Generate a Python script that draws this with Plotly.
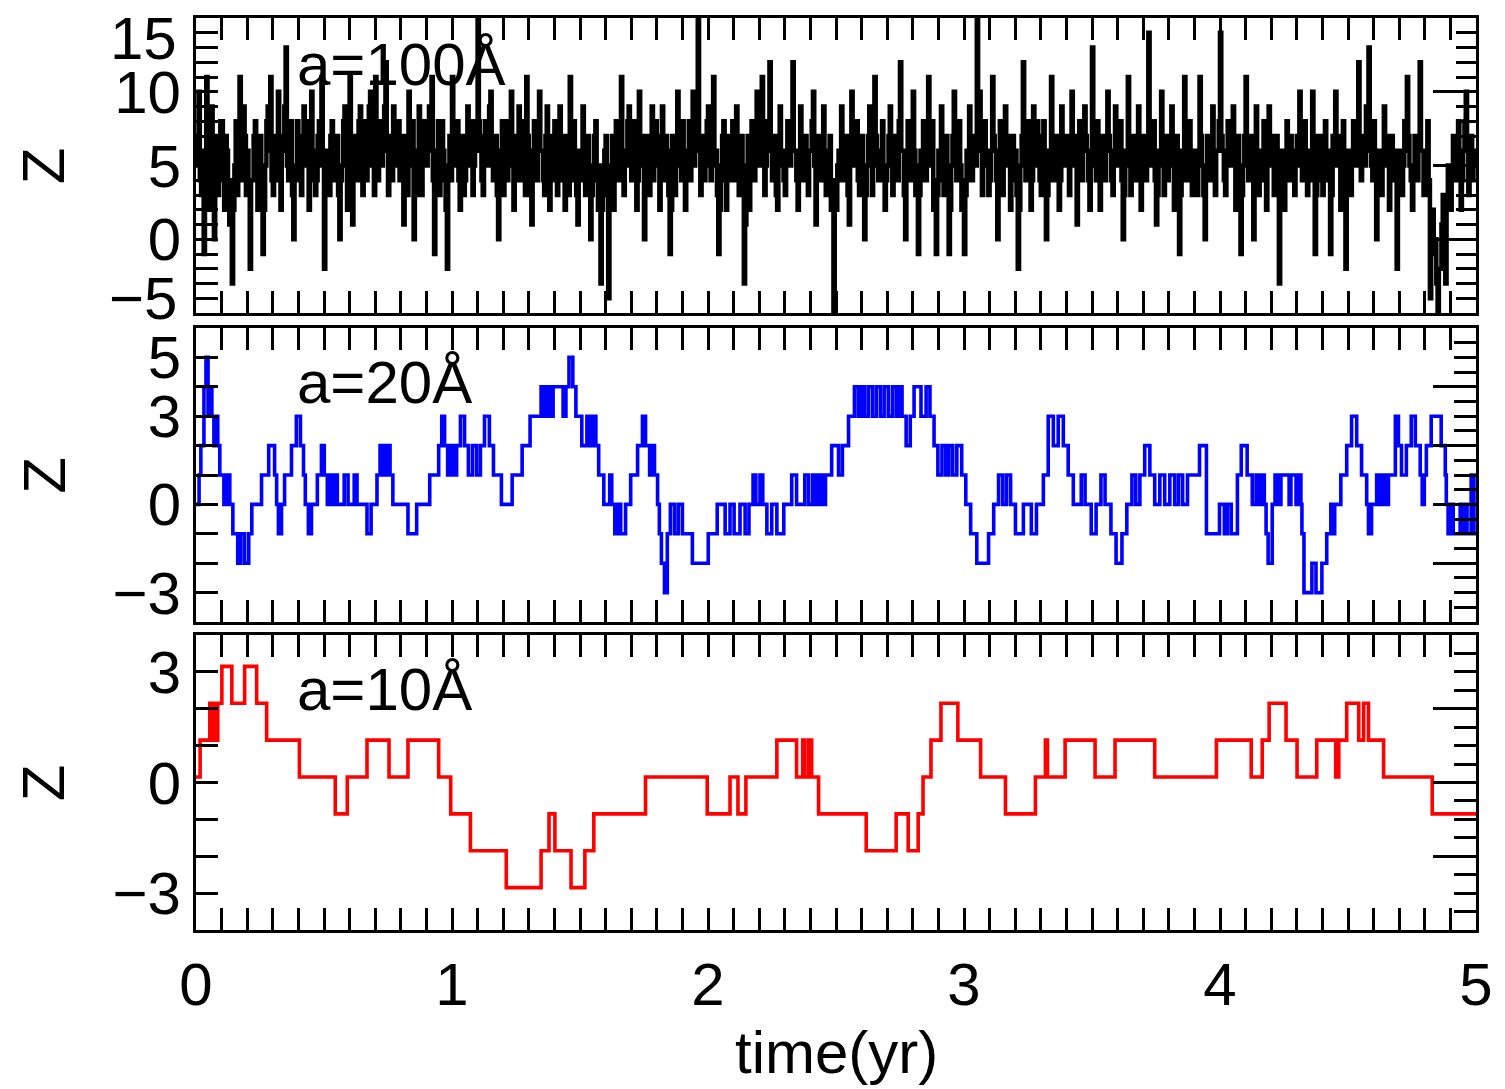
import plotly.graph_objects as go

FONT = "Liberation Sans, Arial, sans-serif"
FS = 60

# ---- grain charge Z versus time, a = 100 Å (sampled every 0.005 yr) ----
z_black = [
    5, 7, 10, 4, 3, 6, -1, 5, 11, 3, 2, 8, 9, 4, 0, 6, 7, 3, 4, 8,
    8, 5, 2, 7, 6, 3, 1, 4, -3, 2, 5, 8, 3, 6, 11, 5, 4, 9, 7, 3,
    6, 3, -2, 4, 4, 7, 8, 5, 2, 6, 7, 3, -1, 2, 5, 8, 9, 6, 11, 4,
    3, 6, 7, 4, 10, 5, 2, 7, 6, 9, 13, 5, 4, 7, 8, 3, 0, 4, 5, 8,
    7, 4, 3, 6, 9, 5, 5, 8, 2, 4, 10, 6, 6, 3, 4, 7, 8, 5, 11, 6,
    -2, 3, 6, 4, 3, 7, 8, 5, 4, 6, 7, 3, 0, 4, 5, 8, 9, 6, 2, 5,
    11, 6, 1, 5, 7, 4, 4, 8, 9, 6, 3, 7, 8, 4, 5, 9, 10, 5, 6, 3,
    11, 7, 4, 6, 8, 5, 6, 9, 12, 7, 3, 5, 7, 4, 9, 6, 5, 8, 8, 4,
    4, 7, 1, 5, 7, 3, 10, 6, 5, 8, 0, 4, 6, 3, 9, 5, 3, 7, 8, 5,
    5, 8, 9, 6, 11, 4, -1, 3, 6, 8, 3, 5, 8, 6, 4, 2, -2, 5, 7, 4,
    11, 6, 5, 8, 8, 4, 2, 6, 7, 3, 4, 7, 9, 5, 6, 8, 3, 5, 8, 6,
    16, 8, 6, 4, 3, 7, 8, 5, 5, 9, 10, 6, 4, 7, 7, 3, 0, 5, 6, 8,
    3, 6, 8, 4, 5, 7, 10, 6, 2, 5, 7, 4, 9, 6, 4, 8, 6, 3, 11, 7,
    5, 3, 1, 6, 8, 5, 4, 7, 10, 6, 6, 4, 3, 7, 9, 5, 2, 6, 7, 4,
    8, 5, 3, 6, 9, 4, 5, 7, 2, 5, 7, 3, 11, 6, 4, 8, 6, 3, 1, 4,
    6, 4, 9, 5, 3, 7, 7, 4, 0, 3, 5, 7, 8, 4, 2, 5, -3, 2, 4, 6,
    7, 3, -4, 2, 5, 7, 2, 6, 8, 5, 4, 7, 11, 6, 3, 5, 6, 8, 9, 5,
    4, 6, 8, 5, 2, 4, 10, 6, 5, 7, 0, 3, 7, 5, 3, 6, 9, 4, 6, 8,
    5, 7, 2, 4, 9, 6, 4, 7, 6, 3, -1, 2, 7, 5, 3, 6, 10, 7, 5, 4,
    8, 5, 2, 4, 6, 8, 4, 6, 10, 5, 6, 8, 16, 7, 3, 5, 7, 4, 5, 8,
    9, 6, 4, 7, 11, 5, 6, 3, -1, 2, 5, 7, 8, 4, 2, 5, 7, 6, 4, 8,
    6, 4, 9, 5, 3, 6, 7, 4, -3, 1, 5, 7, 2, 4, 8, 6, 4, 7, 10, 5,
    5, 8, 11, 6, 3, 5, 8, 6, 12, 7, 4, 6, 7, 3, 2, 5, 9, 6, 6, 4,
    3, 6, 8, 5, 5, 7, 12, 6, 6, 4, 2, 5, 9, 6, 4, 7, 7, 5, 3, 6,
    6, 8, 10, 5, 1, 4, 7, 5, 4, 6, 9, 5, 3, 6, 5, 7, 2, 4, -7, 3,
    2, 5, 6, 4, 9, 6, 4, 7, 7, 3, 1, 5, 10, 6, 5, 7, 8, 4, 3, 6,
    7, 4, 0, 3, 5, 7, 9, 6, 3, 5, 11, 7, 6, 4, 4, 6, 8, 5, 2, 4,
    5, 7, 9, 6, 3, 5, 7, 4, 4, 8, 12, 6, 6, 3, 0, 4, 8, 6, 4, 7,
    10, 6, 3, 5, -1, 3, 6, 4, 8, 5, 4, 7, 11, 6, 5, 8, 2, 4, -1, 3,
    6, 4, 9, 6, 3, 5, 7, 4, -1, 2, 5, 7, 10, 6, 4, 7, 8, 5, 2, 4,
    -1, 3, 6, 4, 9, 6, 4, 7, 7, 5, 16, 8, 10, 6, 3, 5, 8, 6, 5, 3,
    4, 6, 11, 7, 6, 4, 0, 3, 8, 5, 3, 6, 9, 5, 5, 7, 2, 4, 7, 5,
    6, 3, -2, 2, 5, 7, 12, 6, 4, 6, 8, 5, 2, 4, 9, 6, 5, 8, 7, 4,
    3, 6, 8, 5, 0, 3, 6, 4, 11, 7, 4, 6, 7, 5, 2, 4, 9, 6, 5, 7,
    7, 5, 3, 6, 10, 6, 5, 7, 1, 4, 8, 5, 4, 6, 9, 7, 6, 4, 2, 5,
    13, 7, 5, 4, 8, 6, 2, 5, 7, 4, 4, 6, 10, 7, 6, 4, 3, 6, 9, 5,
    5, 7, 8, 4, 0, 3, 6, 5, 11, 7, 3, 5, 7, 4, 4, 6, 9, 5, 2, 4,
    7, 5, 4, 6, 14, 8, 5, 7, 8, 4, 1, 3, 6, 5, 10, 6, 3, 5, 7, 4,
    5, 7, 9, 6, 2, 4, 7, 5, -1, 3, 6, 4, 11, 7, 4, 6, 8, 5, 3, 6,
    6, 4, 3, 5, 11, 7, 5, 3, 0, 4, 7, 5, 4, 6, 9, 5, 3, 6, 6, 8,
    14, 7, 6, 4, 3, 6, 8, 5, 5, 7, 9, 6, 2, 4, 7, 5, -1, 3, 5, 7,
    11, 6, 4, 5, 7, 4, 0, 3, 9, 6, 3, 5, 6, 4, 8, 6, 2, 5, 9, 5,
    5, 7, 3, 5, 7, 4, -3, 2, 6, 4, 2, 5, 8, 6, 4, 7, 6, 5, 3, 6,
    7, 5, 10, 6, 4, 7, 8, 5, 3, 6, 6, 4, 10, 7, -1, 3, 5, 7, 7, 4,
    3, 6, 8, 5, 4, 6, -1, 3, 7, 5, 10, 6, 5, 7, 2, 4, 8, 5, -2, 3,
    6, 4, 3, 6, 8, 5, 5, 7, 12, 6, 4, 7, 7, 5, 9, 6, 13, 7, 5, 4,
    8, 5, 0, 4, 6, 3, 3, 6, 9, 5, 5, 7, 2, 4, 7, 5, 4, 6, -2, 3,
    6, 4, 3, 5, 8, 6, 11, 7, 5, 4, 2, 5, 7, 6, 4, 7, 12, 6, 6, 3,
    3, 5, 8, 4, -4, 1, 2, -1, 0, -3, -6, -2, -2, 1, 3, 0, -3, 2, 5, 3,
    2, 5, 7, 4, 4, 6, 8, 5, 2, 4, 6, 8, 10, 6, 3, 5, 7, 4, 5, 6,
]
DT_BLACK = 0.005
t_black = [i * DT_BLACK for i in range(len(z_black))] + [5.0]
z_black_steps = z_black + [z_black[-1]]

# ---- a = 20 Å: times (yr) at which the charge changes, and the new charge ----
t_blue = [
    0.000, 0.012, 0.019, 0.031, 0.039, 0.047, 0.054, 0.062, 0.070, 0.078,
    0.085, 0.093, 0.109, 0.120, 0.132, 0.144, 0.163, 0.175, 0.190, 0.206,
    0.218, 0.256, 0.284, 0.307, 0.315, 0.322, 0.334, 0.346, 0.373, 0.392,
    0.408, 0.420, 0.427, 0.439, 0.451, 0.474, 0.490, 0.501, 0.513, 0.521,
    0.532, 0.544, 0.552, 0.579, 0.594, 0.618, 0.629, 0.668, 0.684, 0.707,
    0.719, 0.726, 0.734, 0.742, 0.750, 0.758, 0.769, 0.828, 0.862, 0.913,
    0.948, 0.960, 0.971, 0.983, 0.995, 1.006, 1.018, 1.033, 1.049, 1.064,
    1.080, 1.096, 1.111, 1.127, 1.146, 1.162, 1.193, 1.235, 1.274, 1.305,
    1.348, 1.356, 1.364, 1.371, 1.379, 1.387, 1.395, 1.434, 1.445, 1.457,
    1.472, 1.484, 1.507, 1.527, 1.538, 1.550, 1.562, 1.573, 1.593, 1.616,
    1.624, 1.636, 1.647, 1.659, 1.678, 1.698, 1.725, 1.744, 1.756, 1.772,
    1.783, 1.791, 1.803, 1.810, 1.818, 1.830, 1.841, 1.853, 1.869, 1.884,
    1.900, 1.939, 2.001, 2.036, 2.067, 2.086, 2.102, 2.125, 2.145, 2.160,
    2.176, 2.187, 2.203, 2.214, 2.230, 2.249, 2.269, 2.296, 2.327, 2.346,
    2.378, 2.393, 2.409, 2.416, 2.424, 2.432, 2.440, 2.448, 2.459, 2.483,
    2.510, 2.525, 2.549, 2.572, 2.587, 2.599, 2.611, 2.626, 2.642, 2.657,
    2.673, 2.688, 2.704, 2.720, 2.735, 2.747, 2.758, 2.774, 2.790, 2.805,
    2.832, 2.852, 2.867, 2.883, 2.898, 2.914, 2.929, 2.941, 2.956, 2.972,
    2.991, 3.007, 3.026, 3.050, 3.096, 3.116, 3.135, 3.151, 3.166, 3.182,
    3.201, 3.232, 3.263, 3.283, 3.310, 3.329, 3.349, 3.368, 3.388, 3.407,
    3.427, 3.458, 3.473, 3.497, 3.516, 3.535, 3.551, 3.574, 3.594, 3.617,
    3.636, 3.656, 3.671, 3.687, 3.706, 3.726, 3.745, 3.765, 3.784, 3.804,
    3.823, 3.838, 3.854, 3.873, 3.920, 3.947, 3.998, 4.017, 4.029, 4.044,
    4.068, 4.083, 4.106, 4.126, 4.141, 4.153, 4.161, 4.173, 4.180, 4.188,
    4.204, 4.215, 4.227, 4.238, 4.270, 4.277, 4.297, 4.305, 4.316, 4.320,
    4.328, 4.359, 4.375, 4.398, 4.417, 4.433, 4.441, 4.448, 4.472, 4.495,
    4.514, 4.534, 4.553, 4.573, 4.580, 4.592, 4.612, 4.619, 4.627, 4.635,
    4.643, 4.650, 4.658, 4.685, 4.697, 4.709, 4.728, 4.747, 4.763, 4.782,
    4.790, 4.798, 4.806, 4.825, 4.864, 4.880, 4.884, 4.891, 4.903, 4.911,
    4.938, 4.946, 4.957, 4.965, 4.981, 4.992, 5.000,
]
z_blue = [
    0, 1, 2, 4, 5, 3, 4, 3, 2, 3,
    2, 1, 0, 1, 0, -1, -2, -1, -2, -1,
    0, 1, 2, 1, 0, -1, 0, 1, 2, 3,
    2, 1, 0, -1, 0, 1, 2, 1, 0, 1,
    0, 1, 0, 1, 0, 1, 0, -1, 0, 1,
    2, 1, 2, 1, 2, 1, 0, -1, 0, 1,
    2, 3, 2, 1, 2, 1, 2, 3, 2, 1,
    2, 1, 2, 3, 2, 1, 0, 1, 2, 3,
    4, 3, 4, 3, 4, 3, 4, 3, 4, 5,
    4, 3, 2, 3, 2, 3, 2, 1, 0, 1,
    0, -1, 0, -1, 0, 1, 2, 3, 2, 1,
    2, 1, 0, -1, -2, -3, -1, 0, -1, 0,
    -1, -2, -1, 0, -1, 0, -1, 0, -1, 0,
    1, 0, 1, 0, -1, 0, -1, 0, 1, 0,
    1, 0, 1, 0, 1, 0, 1, 0, 1, 2,
    1, 2, 3, 4, 3, 4, 3, 4, 3, 4,
    3, 4, 3, 4, 3, 4, 3, 2, 3, 4,
    3, 4, 3, 2, 1, 2, 1, 2, 1, 2,
    1, 0, -1, -2, -1, 0, 1, 0, 1, 0,
    -1, 0, -1, 0, 1, 3, 2, 3, 2, 1,
    0, 1, 0, -1, 0, 1, 0, -1, -2, -1,
    0, 1, 0, 1, 2, 1, 0, 1, 0, 1,
    0, 1, 0, 1, 2, -1, 0, -1, 0, -1,
    1, 2, 1, 0, 1, 0, 1, 0, -1, -2,
    0, 1, 0, 1, 0, 1, 0, 1, 0, -1,
    -3, -2, -3, -2, -1, 0, -1, 0, 1, 2,
    3, 2, 1, 0, -1, 0, 1, 0, 1, 0,
    1, 0, 1, 3, 2, 1, 2, 3, 2, 1,
    0, 1, 2, 3, 2, 1, 0, -1, 0, -1,
    0, -1, 0, -1, 1, -1, -1,
]

# ---- a = 10 Å: change times (yr) and charge levels ----
t_red = [
    0.000, 0.016, 0.054, 0.062, 0.070, 0.078, 0.085, 0.101, 0.140, 0.190,
    0.237, 0.276, 0.404, 0.544, 0.591, 0.668, 0.754, 0.828, 0.948, 0.995,
    1.072, 1.212, 1.348, 1.379, 1.402, 1.465, 1.519, 1.554, 1.756, 1.997,
    2.086, 2.117, 2.148, 2.269, 2.346, 2.370, 2.378, 2.393, 2.405, 2.432,
    2.618, 2.735, 2.782, 2.821, 2.840, 2.871, 2.910, 2.976, 3.065, 3.162,
    3.279, 3.318, 3.326, 3.395, 3.512, 3.590, 3.745, 3.986, 4.122, 4.165,
    4.192, 4.258, 4.301, 4.378, 4.452, 4.464, 4.495, 4.542, 4.561, 4.580,
    4.639, 4.829, 5.000,
]
z_red = [
    0.15, 1.15, 2.15, 1.15, 2.15, 1.15, 2.15, 3.15, 2.15, 3.15,
    2.15, 1.15, 0.15, -0.85, 0.15, 1.15, 0.15, 1.15, 0.15, -0.85,
    -1.85, -2.85, -1.85, -0.85, -1.85, -2.85, -1.85, -0.85, 0.15, -0.85,
    0.15, -0.85, 0.15, 1.15, 0.15, 1.15, 0.15, 1.15, 0.15, -0.85,
    -1.85, -0.85, -1.85, -0.85, 0.15, 1.15, 2.15, 1.15, 0.15, -0.85,
    0.15, 1.15, 0.15, 1.15, 0.15, 1.15, 0.15, 1.15, 0.15, 1.15,
    2.15, 1.15, 0.15, 1.15, 0.15, 1.15, 2.15, 1.15, 2.15, 1.15,
    0.15, -0.85, -0.85,
]

# labelled ticks of the left axes (unlabelled ones are drawn as minor ticks)
y1_ticks = [0, 5, 10]
y1_text = ["0", "5", "10"]
y2_ticks = [5, 3, 0, -3]
y2_text = ["5", "3", "0", "\u22123"]
y3_ticks = [3, 0, -3]
y3_text = ["3", "0", "\u22123"]

panel_labels = ["a=100\u00c5", "a=20\u00c5", "a=10\u00c5"]

fig = go.Figure()
fig.add_trace(go.Scatter(x=t_black, y=z_black_steps, mode="lines",
                         line=dict(color="black", width=4.5, shape="hv"),
                         xaxis="x", yaxis="y", hoverinfo="skip", showlegend=False))
fig.add_trace(go.Scatter(x=t_blue, y=z_blue, mode="lines",
                         line=dict(color="#0000ff", width=3.6, shape="hv"),
                         xaxis="x2", yaxis="y2", hoverinfo="skip", showlegend=False))
fig.add_trace(go.Scatter(x=t_red, y=z_red, mode="lines",
                         line=dict(color="#ff0000", width=3.6, shape="hv"),
                         xaxis="x3", yaxis="y3", hoverinfo="skip", showlegend=False))
# empty traces so the right-hand tick axes get drawn
for xa, ya in (("x", "y4"), ("x2", "y5"), ("x3", "y6")):
    fig.add_trace(go.Scatter(x=[None], y=[None], xaxis=xa, yaxis=ya,
                             hoverinfo="skip", showlegend=False))

LW = 3
TW = 2.5
tickfont = dict(family=FONT, size=FS, color="black")


def x_axis(anchor, labels):
    return dict(
        domain=[0, 1], range=[0, 5], anchor=anchor,
        showline=True, linecolor="black", linewidth=LW, mirror="allticks",
        ticks="inside", ticklen=22, tickwidth=TW, tickcolor="black",
        tickmode="linear", tick0=0, dtick=1,
        minor=dict(ticks="inside", dtick=0.1, tick0=0, ticklen=10,
                   tickwidth=TW, tickcolor="black", showgrid=False),
        showgrid=False, zeroline=False, showticklabels=labels,
        tickfont=tickfont, ticklabelstandoff=0,
    )


def y_left(domain, rng, vals, text, anchor):
    return dict(
        domain=domain, range=rng, anchor=anchor,
        showline=True, linecolor="black", linewidth=LW, mirror=True,
        ticks="inside", ticklen=22, tickwidth=TW, tickcolor="black",
        tickmode="array", tickvals=vals, ticktext=text,
        minor=dict(ticks="inside", tickmode="linear", tick0=0, dtick=1,
                   ticklen=22, tickwidth=TW, tickcolor="black", showgrid=False),
        showgrid=False, zeroline=False, tickfont=tickfont,
        ticklabelstandoff=0,
    )


def y_right(over, rng, major, minor, minor_len, anchor):
    return dict(
        overlaying=over, side="right", anchor=anchor, range=rng,
        ticks="inside", ticklen=43, tickwidth=TW, tickcolor="black",
        tickmode="linear", tick0=0, dtick=major,
        minor=dict(ticks="inside", dtick=minor, tick0=0, ticklen=minor_len,
                   tickwidth=TW, tickcolor="black", showgrid=False),
        showticklabels=False, showline=False, showgrid=False, zeroline=False,
    )


H_PLOT = 912.0
dom1 = [(930 - 313) / H_PLOT, 1.0]
dom2 = [(930 - 622) / H_PLOT, (930 - 328) / H_PLOT]
dom3 = [0.0, (930 - 635) / H_PLOT]

fig.update_layout(
    width=1505, height=1089,
    margin=dict(l=196, r=22, t=18, b=159),
    paper_bgcolor="white", plot_bgcolor="white",
    font=dict(family=FONT, size=FS, color="black"),
    xaxis=x_axis("y", False),
    xaxis2=x_axis("y2", False),
    xaxis3=x_axis("y3", True),
    yaxis=y_left(dom1, [-5, 15], y1_ticks, y1_text, "x"),
    yaxis2=y_left(dom2, [-4, 6], y2_ticks, y2_text, "x2"),
    yaxis3=y_left(dom3, [-4, 4], y3_ticks, y3_text, "x3"),
    yaxis4=y_right("y", [-5, 15], 5, 1, 20, "x"),
    yaxis5=y_right("y2", [-4, 6], 2, 0.5, 22, "x2"),
    yaxis6=y_right("y3", [-4, 4], 2, 0.5, 22, "x3"),
)

ann = []
# end labels of the top panel sit just inside the frame
ann.append(dict(text="15", xref="paper", yref="y", x=-0.013, y=15, yshift=-20,
                xanchor="right", yanchor="middle", showarrow=False,
                font=tickfont))
ann.append(dict(text="\u22125", xref="paper", yref="y", x=-0.013, y=-5, yshift=15,
                xanchor="right", yanchor="middle", showarrow=False,
                font=tickfont))
# y-axis titles
for yref in ("y domain", "y2 domain", "y3 domain"):
    ann.append(dict(text="Z", xref="paper", yref=yref, x=-0.119, y=0.5,
                    xanchor="center", yanchor="middle", textangle=-90,
                    showarrow=False, font=tickfont))
# panel labels
for (xr, yr, yv), lab in zip((("x", "y domain", 0.841),
                              ("x2", "y2 domain", 0.813),
                              ("x3", "y3 domain", 0.814)), panel_labels):
    ann.append(dict(text=lab, xref=xr, yref=yr, x=0.385, y=yv,
                    xanchor="left", yanchor="middle", showarrow=False,
                    font=tickfont))
# x-axis title
ann.append(dict(text="time(yr)", xref="paper", yref="paper", x=0.5,
                y=(930 - 1052) / H_PLOT, xanchor="center", yanchor="middle",
                showarrow=False, font=tickfont))
fig.update_layout(annotations=ann)

fig.write_html("out.html")
